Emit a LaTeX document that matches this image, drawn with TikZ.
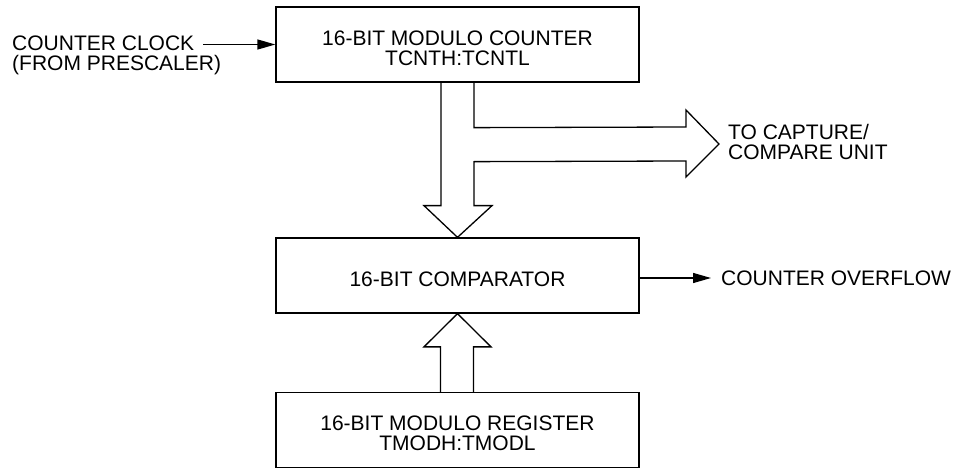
\documentclass[tikz,border=0pt]{standalone}
\usepackage{fontspec}
\setmainfont{Liberation Sans}
\usetikzlibrary{arrows.meta,calc}
\tikzset{
  blk/.style={draw=black, line width=1.3pt, minimum width=363pt, minimum height=75pt, inner sep=0pt},
  txt/.style={inner sep=0pt, align=center, font=\fontsize{21}{20}\selectfont, yshift=-4pt},
  lbl/.style={inner sep=0pt, align=left, font=\fontsize{21}{20}\selectfont},
  sig/.style={line width=1.3pt, -{Triangle[length=18pt,width=10pt]}},
  bus/.style={line width=1.3pt, line join=miter}
}
\begin{document}
\begin{tikzpicture}[x=1pt,y=-1pt]
\useasboundingbox (0,0) rectangle (962,468);
\node[blk, label={[txt]center:16-BIT MODULO COUNTER\\TCNTH:TCNTL}] (top) at (457.5,44.5) {};
\node[blk, label={[txt, yshift=0.5pt]center:16-BIT COMPARATOR}] (cmp) at (457.5,275.5) {};
\node[blk, label={[txt, yshift=0.5pt]center:16-BIT MODULO REGISTER\\TMODH:TMODL}] (reg) at (457.5,430) {};
\node[lbl, anchor=west] (clk) at (12,55.5) {COUNTER CLOCK\\(FROM PRESCALER)};
\node[lbl, anchor=west] (cap) at (728,141.5) {TO CAPTURE/\\COMPARE UNIT};
\node[lbl, anchor=west] (ovf) at (721,278) {COUNTER OVERFLOW};
\coordinate (clkend) at (203,44.5);
\draw[sig] (clkend) -- (top.west);
\draw[sig] (cmp.east |- ovf.west) -- ($(ovf.west)+(-10,0)$);
% bus from counter to comparator with branch to capture/compare
\draw[bus] ($(top.south)+(-16.5,0)$) -- ($(top.south)+(-16.5,123)$)
  -- ($(top.south)+(-33.5,123)$) -- (cmp.north) -- ($(top.south)+(34.5,123)$)
  -- ($(top.south)+(16.5,123)$) -- ($(top.south)+(16.5,79)$)
  -- ($(cap.west)+(-42,19.5)$) -- ($(cap.west)+(-42,35.5)$) -- ($(cap.west)+(-9,2.5)$)
  -- ($(cap.west)+(-42,-31.5)$) -- ($(cap.west)+(-42,-14.5)$)
  -- ($(top.south)+(16.5,45)$) -- ($(top.south)+(16.5,0)$);
% bus from register to comparator
\draw[bus] ($(reg.north)+(-17,0)$) -- ($(reg.north)+(-17,-45)$)
  -- ($(reg.north)+(-33.5,-45)$) -- (cmp.south) -- ($(reg.north)+(33.5,-45)$)
  -- ($(reg.north)+(16,-45)$) -- ($(reg.north)+(16,0)$);
\end{tikzpicture}
\end{document}
